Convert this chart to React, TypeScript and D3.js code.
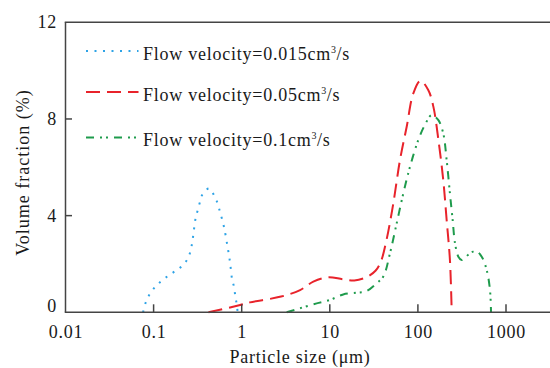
import React from "react";
import * as d3 from "d3";

const blueX = [0.076, 0.082, 0.091, 0.104, 0.121, 0.145, 0.175, 0.208, 0.241, 0.261, 0.273, 0.282, 0.29, 0.3, 0.317, 0.337, 0.361, 0.426, 0.489, 0.534, 0.567, 0.602, 0.634, 0.686, 0.736, 0.776, 0.818, 0.846, 0.877, 0.9];
const blueY = [0, 0.44, 0.77, 1.05, 1.28, 1.5, 1.7, 1.9, 2.18, 2.5, 2.84, 3.2, 3.54, 3.9, 4.23, 4.58, 4.9, 5.12, 4.82, 4.5, 4.15, 3.82, 3.48, 2.78, 2.09, 1.39, 1.05, 0.67, 0.34, 0];

const redX = [0.42, 0.96, 1.24, 2.8, 4.6, 6.5, 9.5, 14, 19, 26, 33, 38, 44, 52.6, 62.6, 74.6, 88.7, 107, 131, 150, 171, 194, 212, 231, 242];
const redY = [0, 0.3, 0.41, 0.65, 0.92, 1.27, 1.45, 1.37, 1.32, 1.45, 1.72, 2.1, 2.99, 4.51, 6.3, 7.68, 9.06, 9.58, 9.2, 8.5, 7.13, 5.47, 3.82, 2.16, 0];

const greenX = [3.24, 4.6, 7.1, 10, 14.2, 20.2, 26.2, 34, 40.5, 48.2, 57.4, 68.3, 81.3, 101, 120, 143, 170, 194, 212, 231, 248, 264, 288, 314, 390, 457, 530, 604, 658, 676];
const greenY = [0, 0.17, 0.37, 0.51, 0.74, 0.81, 0.88, 1.2, 1.48, 2.44, 3.68, 4.92, 6.02, 7.13, 7.75, 8.16, 7.96, 7.4, 6.3, 4.92, 3.82, 2.85, 2.3, 2.16, 2.44, 2.54, 2.3, 1.75, 0.92, 0];

const xTicks = [0.01, 0.1, 1, 10, 100, 1000];
const xTickLabels = ["0.01", "0.1", "1", "10", "100", "1000"];
const yTicks = [0, 4, 8, 12];
const yTickLabels = ["0", "4", "8", "12"];

const seriesNames = ["Flow velocity=0.015cm", "Flow velocity=0.05cm", "Flow velocity=0.1cm"];

const BLUE = "#2ea3e6";
const RED = "#e8232b";
const GREEN = "#1e9b4c";
const AXIS = "#444";
const FONT = "Liberation Serif";

export default function App() {
  const x0 = 65.5;
  const dec = 88.1;
  const x = d3.scaleLog().domain([0.01, 10000]).range([x0, x0 + dec * 6]);
  const y = d3.scaleLinear().domain([0, 12]).range([312.3, 22.3]);
  const W = 550;

  const line = d3
    .line<[number, number]>()
    .x((d) => x(d[0]))
    .y((d) => y(d[1]))
    .curve(d3.curveCatmullRom.alpha(0.5));

  const zip = (a: number[], b: number[]) => a.map((v, i) => [v, b[i]] as [number, number]);

  const series = [
    { name: seriesNames[0], pts: zip(blueX, blueY), color: BLUE, dash: "2,6.5", width: 2, ly: 51 },
    { name: seriesNames[1], pts: zip(redX, redY), color: RED, dash: "14,7", width: 2, ly: 92 },
    { name: seriesNames[2], pts: zip(greenX, greenY), color: GREEN, dash: "8,6,2,4,2,6", width: 2, ly: 137.5 },
  ];

  const textStyle: React.CSSProperties = { fontFamily: FONT, fontSize: 18, letterSpacing: 0.75, fill: "#1a1a1a" };

  return (
    <svg width={550} height={368} style={{ position: "absolute", left: 0, top: 0, background: "#fff" }}>
      {series.map((s, i) => (
        <path key={i} d={line(s.pts) || ""} fill="none" stroke={s.color} strokeWidth={s.width} strokeDasharray={s.dash} />
      ))}
      <line x1={x0} x2={x0} y1={y(12)} y2={y(0)} stroke={AXIS} strokeWidth={1.5} />
      <line x1={x0 - 0.75} x2={W} y1={y(0)} y2={y(0)} stroke={AXIS} strokeWidth={1.5} />
      <line x1={x0 - 0.75} x2={W} y1={y(12)} y2={y(12)} stroke={AXIS} strokeWidth={1.5} />
      {xTicks.map((t, i) => (
        <g key={"xt" + i}>
          {i > 0 && <line x1={x(t)} x2={x(t)} y1={y(0)} y2={y(0) - 8} stroke={AXIS} strokeWidth={1.5} />}
          <text x={x(t) + 0.4} y={338} textAnchor="middle" style={textStyle}>
            {xTickLabels[i]}
          </text>
        </g>
      ))}
      {yTicks.map((t, i) => (
        <g key={"yt" + i}>
          {t > 0 && t < 12 && <line x1={x0} x2={x0 + 6.5} y1={y(t)} y2={y(t)} stroke={AXIS} strokeWidth={1.5} />}
          <text x={57} y={t === 0 ? y(t) - 0.5 : y(t) + 6} textAnchor="end" style={textStyle}>
            {yTickLabels[i]}
          </text>
        </g>
      ))}
      <text x={300} y={363} textAnchor="middle" style={textStyle}>
        Particle size (μm)
      </text>
      <text transform="translate(29,172.5) rotate(-90)" textAnchor="middle" style={{ ...textStyle, letterSpacing: 1 }}>
        Volume fraction (%)
      </text>
      {series.map((s, i) => (
        <g key={"lg" + i}>
          <line x1={86} x2={138.5} y1={s.ly} y2={s.ly} stroke={s.color} strokeWidth={s.width} strokeDasharray={s.dash} />
          <text x={143} y={s.ly + 8.5} style={textStyle}>
            {s.name}
            <tspan fontSize={10} dy={-7} letterSpacing={0.5}>3</tspan>
            <tspan dy={7}>/s</tspan>
          </text>
        </g>
      ))}
    </svg>
  );
}
